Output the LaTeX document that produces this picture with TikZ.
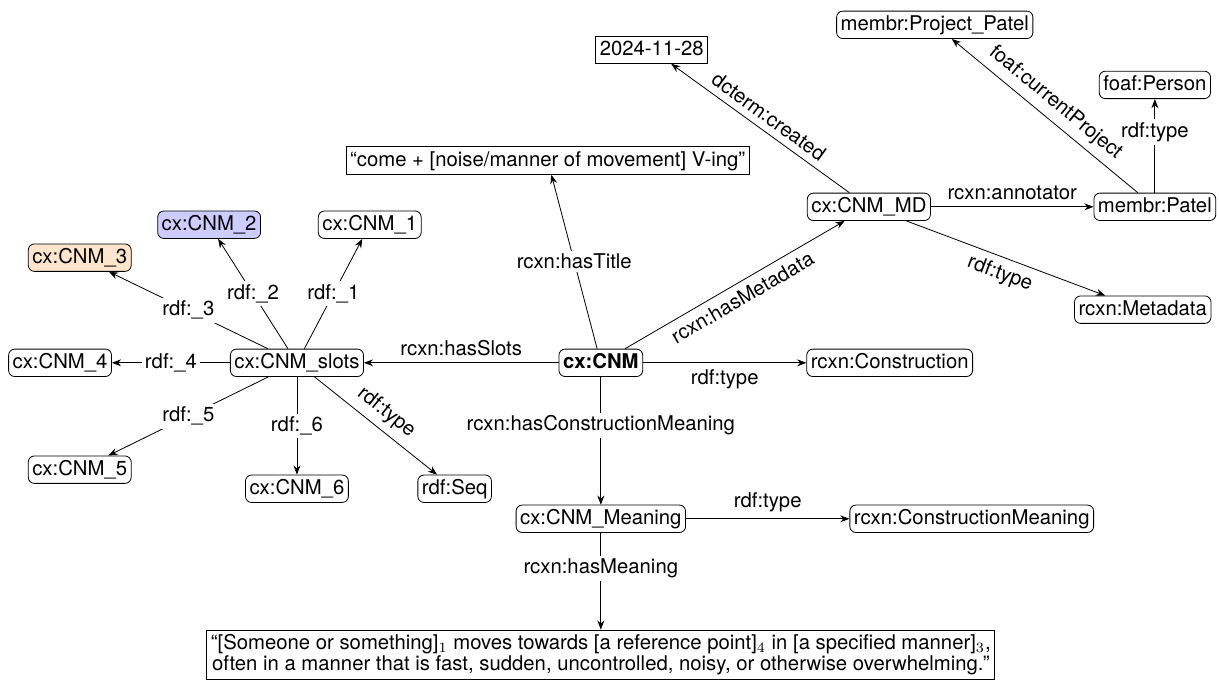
\documentclass[tikz,border=0pt]{standalone}
\usepackage{fontspec}
\setmainfont{TeX Gyre Heros}
\usepackage{tikz}
\usetikzlibrary{arrows.meta, positioning}

\begin{document}
\begin{tikzpicture}[
    entity/.style={draw, inner sep=2pt, on grid},
    res/.style={entity, rounded corners=3pt, text height=7.5pt, text depth=2pt},
    literal/.style={entity, text height=7.5pt, text depth=2pt},
    arrow/.style={-{Stealth[length=4.5pt, width=3.4pt]}},
    onedge/.style={fill=white, inner sep=1.5pt},
]

\useasboundingbox (-10.40,6.28) rectangle (10.70,-5.56);

% Construction
\node[res, font=\bfseries] (cnm) {cx:CNM};
\node[literal, above left=3.50cm and 0.92cm of cnm] (title) {“come + [noise/manner of movement] V-ing”};
\node[res, right=5.00cm of cnm] (constr) {rcxn:Construction};

% Slots
\node[res, left=5.26cm of cnm] (slots) {cx:CNM\_slots};
\node[res, above right=2.39cm and 1.26cm of slots] (cnm1) {cx:CNM\_1};
\node[res, above left=2.39cm and 1.52cm of slots, fill=blue!20] (cnm2) {cx:CNM\_2};
\node[res, above left=1.82cm and 3.76cm of slots, fill=orange!20] (cnm3) {cx:CNM\_3};
\node[res, left=4.10cm of slots] (cnm4) {cx:CNM\_4};
\node[res, below left=1.85cm and 3.76cm of slots] (cnm5) {cx:CNM\_5};
\node[res, below=2.18cm of slots] (cnm6) {cx:CNM\_6};
\node[res, below right=2.18cm and 2.73cm of slots] (seq) {rdf:Seq};

% Metadata
\node[res, above right=2.70cm and 4.64cm of cnm] (md) {cx:CNM\_MD};
\node[literal, above left=2.72cm and 3.76cm of md] (date) {2024-11-28};
\node[res, right=4.95cm of md] (patel) {membr:Patel};
\node[res, above left=3.15cm and 3.81cm of patel] (project) {membr:Project\_Patel};
\node[res, above=2.11cm of patel] (person) {foaf:Person};
\node[res, below right=1.78cm and 4.74cm of md] (mdtype) {rcxn:Metadata};

% Meaning
\node[res, below=2.70cm of cnm] (meaning) {cx:CNM\_Meaning};
\node[res, right=6.42cm of meaning] (cmeaning) {rcxn:ConstructionMeaning};
\node[entity, below=2.35cm of meaning, align=center, font=\fontsize{10}{10.5}\selectfont] (gloss)
    {“[Someone or something]$_1$ moves towards [a reference point]$_4$ in [a specified manner]$_3$,\\
     often in a manner that is fast, sudden, uncontrolled, noisy, or otherwise overwhelming.”};

% Arrows
\draw[arrow] (cnm) -- node[onedge] {rcxn:hasTitle} (title);
\draw[arrow] (cnm) -- node[above] {rcxn:hasSlots} (slots);
\draw[arrow] (cnm) -- node[below] {rdf:type} (constr);
\draw[arrow] (cnm) -- node[sloped, below] {rcxn:hasMetadata} (md);
\draw[arrow] (cnm) -- node[onedge, pos=.38] {rcxn:hasConstructionMeaning} (meaning);

\draw[arrow] (slots) -- node[onedge] {rdf:\_1} (cnm1);
\draw[arrow] (slots) -- node[onedge] {rdf:\_2} (cnm2);
\draw[arrow] (slots) -- node[onedge] {rdf:\_3} (cnm3);
\draw[arrow] (slots) -- node[onedge] {rdf:\_4} (cnm4);
\draw[arrow] (slots) -- node[onedge] {rdf:\_5} (cnm5);
\draw[arrow] (slots) -- node[onedge] {rdf:\_6} (cnm6);
\draw[arrow] (slots) -- node[sloped, above] {rdf:type} (seq);

\draw[arrow] (md) -- node[sloped, above] {dcterm:created} (date);
\draw[arrow] (md) -- node[above] {rcxn:annotator} (patel);
\draw[arrow] (md) -- node[sloped, below] {rdf:type} (mdtype);
\draw[arrow] (patel) -- node[sloped, above] {foaf:currentProject} (project);
\draw[arrow] (patel) -- node[onedge, pos=.65] {rdf:type} (person);

\draw[arrow] (meaning) -- node[above] {rdf:type} (cmeaning);
\draw[arrow] (meaning) -- node[onedge, pos=.37] {rcxn:hasMeaning} (gloss);

\end{tikzpicture}
\end{document}
